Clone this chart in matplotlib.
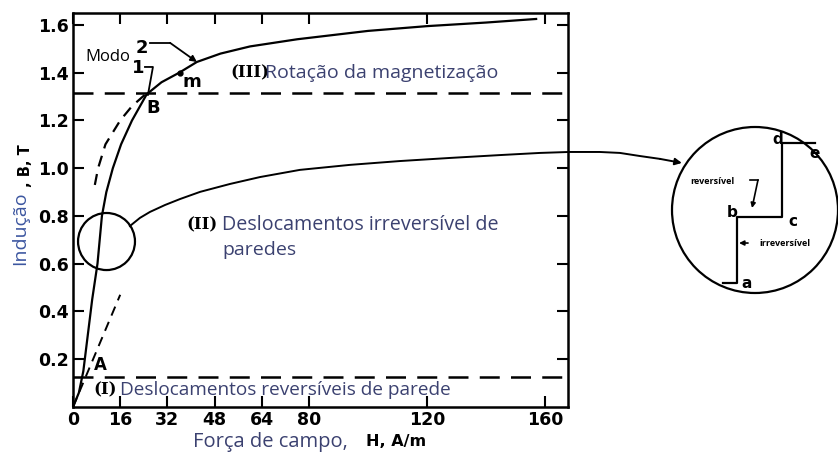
import matplotlib
matplotlib.use('Agg')
from matplotlib import pyplot as plt
from matplotlib.patches import Circle, Ellipse

# Curva de magnetização (modo 2), H em A/m, B em T
h_curve = [0, 2, 3.5, 5, 6.5, 8.3, 9.8, 11.3, 13.5, 16.3, 20, 25, 30, 36, 42,
           50, 60, 76, 100, 120, 140, 157]
b_curve = [0, 0.06, 0.15, 0.3, 0.45, 0.6, 0.8, 0.9, 1.0, 1.1, 1.2, 1.31, 1.36,
           1.4, 1.445, 1.48, 1.51, 1.54, 1.575, 1.595, 1.61, 1.625]

# Modo 1 (tracejado)
h_mode1 = [7.4, 8.5, 11, 16, 20, 25.5]
b_mode1 = [0.93, 1.0, 1.1, 1.2, 1.26, 1.32]

# Reta de permeabilidade inicial
h_init = [0, 16]
b_init = [0, 0.47]

# Limites das regiões
b_limite_a = 0.125
b_limite_b = 1.315

# Ligação do círculo até o detalhe
h_link = [19.3, 22.7, 26.1, 31.2, 36.3, 43.1, 53.2, 63.4, 76.9, 93.9, 110.8,
          127.8, 144.7, 158.3, 168.1, 178.6, 185.4, 192.2, 199.0, 206.4]
b_link = [0.758, 0.792, 0.817, 0.846, 0.871, 0.901, 0.934, 0.963, 0.993, 1.014,
          1.030, 1.043, 1.055, 1.064, 1.068, 1.068, 1.064, 1.051, 1.039, 1.022]

# Degraus do detalhe (coordenadas do círculo ampliado)
u_steps = [0.307, 0.392, 0.392, 0.663, 0.663, 0.861]
v_steps = [0.060, 0.060, 0.458, 0.458, 0.904, 0.904]

x_ticks = [0, 16, 32, 48, 64, 80, 120, 160]
y_ticks = [0.2, 0.4, 0.6, 0.8, 1.0, 1.2, 1.4, 1.6]

W, H = 838, 455
fig = plt.figure(figsize=(W / 100, H / 100), dpi=100)
ax = fig.add_axes([73 / W, 1 - 407 / H, 495 / W, 394 / H])

txt_color = '#3b4170'
sans = 'Open Sans'
tick_font = dict(family='DejaVu Sans', size=12.5, weight='bold')

ax.plot(h_curve, b_curve, color='black', lw=1.6)
ax.plot(h_mode1, b_mode1, color='black', lw=1.6, linestyle=(0, (5, 3.5)))
ax.plot(h_init, b_init, color='black', lw=1.4, linestyle=(0, (5, 3.5)))
ax.axhline(b_limite_a, color='black', lw=1.8, linestyle=(0, (8, 4.5)))
ax.axhline(b_limite_b, color='black', lw=1.8, linestyle=(0, (8, 4.5)))

ax.plot([36.3], [1.399], 'o', color='black', ms=3.5)
ax.add_patch(Ellipse((11.36, 0.693), 19.3, 0.239, fill=False, lw=1.6, color='black'))

ax.plot(h_link[:-1], b_link[:-1], color='black', lw=1.4, clip_on=False)
ax.annotate('', xy=(h_link[-1], b_link[-1]), xytext=(h_link[-2], b_link[-2]),
            annotation_clip=False,
            arrowprops=dict(arrowstyle='-|>', color='black', lw=1.4,
                            mutation_scale=10, shrinkA=0, shrinkB=0))

# Rótulos dos modos
ax.text(4.1, 1.466, 'Modo', family=sans, size=12, color='black', va='center')
ax.text(23.4, 1.504, '2', size=13, weight='bold', color='black', ha='center', va='center')
ax.text(22.0, 1.42, '1', size=13, weight='bold', color='black', ha='center', va='center')
ax.plot([24.4, 27.1, 25.4], [1.424, 1.424, 1.307], color='black', lw=1.3)
ax.plot([26.1, 32.9], [1.525, 1.525], color='black', lw=1.3)
ax.annotate('', xy=(42.0, 1.445), xytext=(32.9, 1.525),
            arrowprops=dict(arrowstyle='-|>', color='black', lw=1.3,
                            mutation_scale=9, shrinkA=0, shrinkB=0))
ax.text(40.3, 1.361, 'm', size=13, weight='bold', color='black', ha='center', va='center')
ax.text(27.1, 1.252, 'B', size=13, weight='bold', color='black', ha='center', va='center')
ax.text(9.2, 0.176, 'A', size=12, weight='bold', color='black', ha='center', va='center')

# Regiões
ax.text(6.8, 0.071, '(I)', family='DejaVu Serif', weight='bold', size=12, va='center')
ax.text(15.9, 0.071, 'Deslocamentos reversíveis de parede', family=sans, size=13.7,
        color=txt_color, va='center')
ax.text(38.6, 0.762, '(II)', family='DejaVu Serif', weight='bold', size=12, va='center')
ax.text(50.5, 0.762, 'Deslocamentos irreversível de', family=sans, size=14.2,
        color=txt_color, va='center')
ax.text(50.5, 0.658, 'paredes', family=sans, size=14, color=txt_color, va='center')
ax.text(53.2, 1.399, '(III)', family='DejaVu Serif', weight='bold', size=12, va='center')
ax.text(65.1, 1.399, 'Rotação da magnetização', family=sans, size=14,
        color=txt_color, va='center')

ax.set_xlim(0, 167.8)
ax.set_ylim(0, 1.65)
ax.set_xticks(x_ticks)
ax.set_yticks(y_ticks)
ax.set_xticklabels([str(t) for t in x_ticks], fontdict=tick_font)
ax.set_yticklabels([f'{t:.1f}' for t in y_ticks], fontdict=tick_font)
ax.tick_params(direction='in', length=8, width=1.5, top=True, right=True, pad=3)
for s in ax.spines.values():
    s.set_linewidth(1.8)

# Títulos dos eixos
fig.text(193 / W, 1 - 442 / H, 'Força de campo,', family=sans, size=14.5,
         color=txt_color, va='center')
fig.text(366 / W, 1 - 442 / H, 'H, A/m', size=11.5, weight='bold', color='black',
         va='center')
fig.text(20 / W, 1 - 265 / H, 'Indução', family=sans, size=14, color='#3c56a0',
         rotation=90, ha='center', va='bottom')
fig.text(26 / W, 1 - 187 / H, ', B, T', size=10.5, weight='bold', color='black',
         rotation=90, ha='center', va='bottom')

# Detalhe ampliado
ax2 = fig.add_axes([672 / W, 1 - 293 / H, 166 / W, 166 / H])
ax2.set_xlim(0, 1)
ax2.set_ylim(0, 1)
ax2.axis('off')
ax2.add_patch(Circle((0.5, 0.5), 0.5, fill=False, lw=1.6, color='black', clip_on=False))
ax2.plot(u_steps, v_steps, color='black', lw=1.6)
for lbl, u, v in [('a', 0.452, 0.060), ('b', 0.361, 0.482), ('c', 0.729, 0.428),
                  ('d', 0.639, 0.922), ('e', 0.861, 0.843)]:
    ax2.text(u, v, lbl, size=11, weight='bold', ha='center', va='center')
ax2.text(0.241, 0.669, 'reversível', family=sans, size=6.5, weight='bold',
         ha='center', va='center')
ax2.plot([0.470, 0.518], [0.681, 0.681], color='black', lw=1.2)
ax2.annotate('', xy=(0.482, 0.512), xytext=(0.518, 0.681),
             arrowprops=dict(arrowstyle='-|>', color='black', lw=1.2,
                             mutation_scale=7, shrinkA=0, shrinkB=0))
ax2.text(0.681, 0.301, 'irreversível', family=sans, size=6.5, weight='bold',
         ha='center', va='center')
ax2.annotate('', xy=(0.404, 0.301), xytext=(0.458, 0.301),
             arrowprops=dict(arrowstyle='-|>', color='black', lw=1.2,
                             mutation_scale=7, shrinkA=0, shrinkB=0))

fig.savefig('out.png', dpi=100)
